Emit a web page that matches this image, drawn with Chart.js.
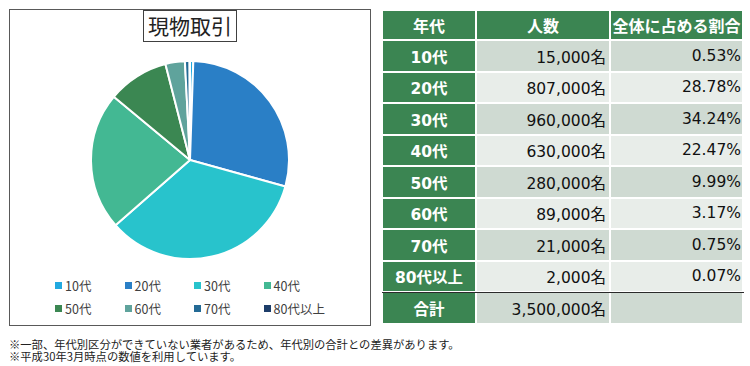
<!DOCTYPE html>
<html lang="ja">
<head>
<meta charset="utf-8">
<script src="https://cdn.jsdelivr.net/npm/chart.js@4/dist/chart.umd.min.js"></script>
<style>
    body {
        margin: 0;
        width: 750px;
        height: 366px;
        background: #fff;
        position: relative;
        overflow: hidden;
        font-family: "DejaVu Sans", "Noto Sans CJK JP", sans-serif;
    }
    #chartBox {
        position: absolute;
        left: 9px;
        top: 9px;
        width: 362px;
        height: 317px;
        box-sizing: border-box;
        border: 1px solid #595959;
    }
    #chartTitle {
        position: absolute;
        left: 143px;
        top: 10px;
        width: 94px;
        height: 32px;
        box-sizing: border-box;
        border: 1px solid #404040;
        text-align: center;
        line-height: 29px;
        font-family: "Noto Sans CJK JP", sans-serif;
        font-size: 21px;
        color: #222;
    }
    #pieWrap {
        position: absolute;
        left: 90px;
        top: 60px;
        width: 200px;
        height: 200px;
    }
    #legend {
        position: absolute;
        left: 55px;
        top: 274px;
        display: grid;
        grid-template-columns: repeat(4, 69.5px);
        grid-auto-rows: 23px;
        font-family: "Noto Sans CJK JP", sans-serif;
        font-size: 12.5px;
        color: #404040;
    }
    #legend .item {
        display: flex;
        align-items: center;
        white-space: nowrap;
    }
    #legend .swatch {
        width: 7px;
        height: 7px;
        margin-right: 3px;
        flex: none;
    }
    #dataTable {
        position: absolute;
        left: 381px;
        top: 9px;
        border-collapse: separate;
        border-spacing: 2px;
        font-size: 15.5px;
        color: #111;
    }
    #dataTable td, #dataTable th {
        padding: 0;
        height: 29.5px;
        white-space: nowrap;
    }
    #dataTable th {
        height: 28px;
        background: #3b8552;
        color: #fff;
        font-weight: bold;
        font-size: 16px;
        text-align: center;
    }
    #dataTable td.age {
        background: #3b8552;
        color: #fff;
        font-weight: bold;
        text-align: center;
    }
    #dataTable td.num { text-align: right; padding-right: 3px; }
    #dataTable td.pct { text-align: right; padding-right: 1px; }
    #dataTable tr.dark td.num, #dataTable tr.dark td.pct { background: #cfdad2; }
    #dataTable tr.light td.num, #dataTable tr.light td.pct { background: #e8ede9; }
    #totalLine {
        position: absolute;
        left: 382px;
        top: 292px;
        width: 362px;
        height: 1px;
        background: #2a2a2a;
    }
    .note {
        position: absolute;
        left: 9px;
        height: 12px;
        font-family: "Noto Sans CJK JP", sans-serif;
        font-size: 11.3px;
        line-height: 12px;
        color: #222;
        white-space: nowrap;
    }
</style>
</head>
<body>
<div id="chartBox"></div>
<div id="chartTitle">現物取引</div>
<div id="pieWrap"><canvas id="pieChart" width="200" height="200"></canvas></div>
<div id="legend"></div>
<table id="dataTable"></table>
<div id="totalLine"></div>
<div class="note" style="top:338px">※一部、年代別区分ができていない業者があるため、年代別の合計との差異があります。</div>
<div class="note" style="top:350px">※平成30年3月時点の数値を利用しています。</div>
<script>
const ageGroups = ['10代', '20代', '30代', '40代', '50代', '60代', '70代', '80代以上'];
const people = [15000, 807000, 960000, 630000, 280000, 89000, 21000, 2000];
const shares = ['0.53%', '28.78%', '34.24%', '22.47%', '9.99%', '3.17%', '0.75%', '0.07%'];
const totalPeople = 3500000;
const headers = ['年代', '人数', '全体に占める割合'];
const sliceColors = ['#21a9e0', '#2a7fc6', '#28c3cc', '#43b893', '#3b8752', '#5fa39c', '#236a95', '#1d3d69'];

document.addEventListener('DOMContentLoaded', () => {
    // Pie chart
    const ctx = document.getElementById('pieChart').getContext('2d');
    const chart = new Chart(ctx, {
        type: 'pie',
        data: {
            labels: ageGroups,
            datasets: [{
                data: people,
                backgroundColor: sliceColors,
                borderColor: '#ffffff',
                borderWidth: 2
            }]
        },
        options: {
            responsive: false,
            animation: false,
            layout: { padding: 0 },
            plugins: {
                legend: { display: false },
                tooltip: { enabled: false }
            }
        }
    });

    // Legend in a 4 column grid, like the original
    const legend = document.getElementById('legend');
    chart.data.labels.forEach((label, i) => {
        const item = document.createElement('div');
        item.className = 'item';
        const swatch = document.createElement('span');
        swatch.className = 'swatch';
        swatch.style.background = chart.data.datasets[0].backgroundColor[i];
        const text = document.createElement('span');
        text.textContent = label;
        item.appendChild(swatch);
        item.appendChild(text);
        legend.appendChild(item);
    });

    // Table
    const table = document.getElementById('dataTable');
    const colWidths = [92, 132, 131];
    const headRow = document.createElement('tr');
    headers.forEach((h, i) => {
        const th = document.createElement('th');
        th.textContent = h;
        th.style.width = colWidths[i] + 'px';
        headRow.appendChild(th);
    });
    table.appendChild(headRow);

    const fmt = n => n.toLocaleString('en-US') + '名';

    ageGroups.forEach((age, i) => {
        const tr = document.createElement('tr');
        tr.className = i % 2 === 0 ? 'dark' : 'light';
        tr.innerHTML = `<td class="age">${age}</td><td class="num">${fmt(people[i])}</td><td class="pct">${shares[i]}</td>`;
        table.appendChild(tr);
    });

    const totalRow = document.createElement('tr');
    totalRow.className = 'dark';
    totalRow.innerHTML = `<td class="age">合計</td><td class="num">${fmt(totalPeople)}</td><td class="pct"></td>`;
    table.appendChild(totalRow);
});
</script>
</body>
</html>
